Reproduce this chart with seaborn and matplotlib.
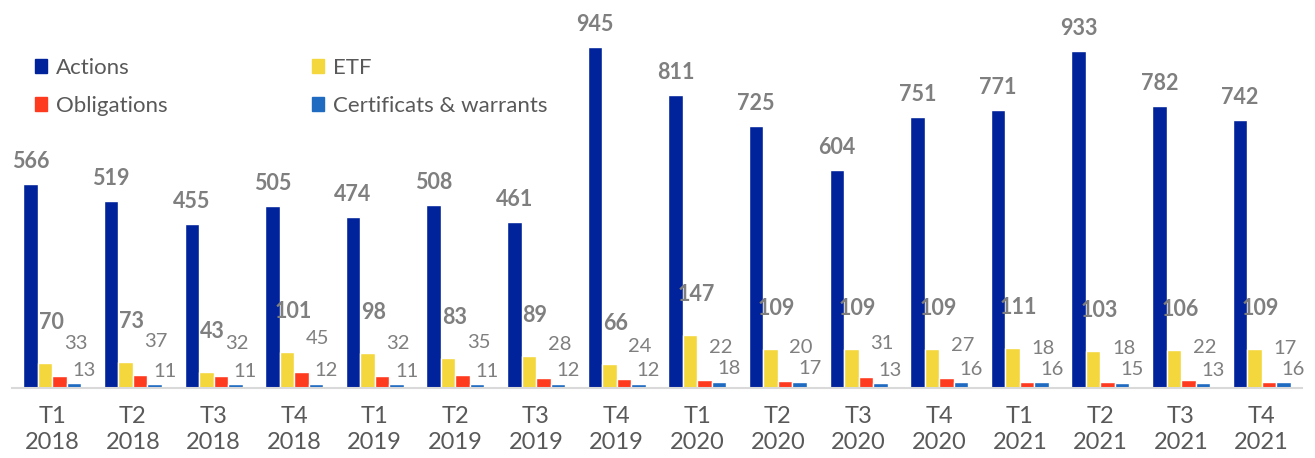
import pandas as pd
import seaborn as sns
import matplotlib.pyplot as plt

# quarterly values
quarters = ["T1\n2018", "T2\n2018", "T3\n2018", "T4\n2018",
            "T1\n2019", "T2\n2019", "T3\n2019", "T4\n2019",
            "T1\n2020", "T2\n2020", "T3\n2020", "T4\n2020",
            "T1\n2021", "T2\n2021", "T3\n2021", "T4\n2021"]
actions = [566, 519, 455, 505, 474, 508, 461, 945, 811, 725, 604, 751, 771, 933, 782, 742]
etf = [70, 73, 43, 101, 98, 83, 89, 66, 147, 109, 109, 109, 111, 103, 106, 109]
obligations = [33, 37, 32, 45, 32, 35, 28, 24, 22, 20, 31, 27, 18, 18, 22, 17]
certificats = [13, 11, 11, 12, 11, 11, 12, 12, 18, 17, 13, 16, 16, 15, 13, 16]

series = ["Actions", "ETF", "Obligations", "Certificats & warrants"]
colors = ["#00229A", "#F4D73C", "#FF3B1F", "#1F6BC1"]

df = pd.DataFrame({
    "quarter": quarters * 4,
    "series": [s for s in series for _ in quarters],
    "value": actions + etf + obligations + certificats,
})

sns.set_style("white")
plt.rcParams['font.family'] = ['Lato', 'DejaVu Sans']

fig = plt.figure(figsize=(13.15, 4.58), dpi=100)
ax = fig.add_axes([12 / 1315, 70 / 458, 1290 / 1315, 388 / 458])

sns.barplot(data=df, x="quarter", y="value", hue="series", hue_order=series,
            order=quarters, palette=colors, width=0.72, gap=0, saturation=1,
            errorbar=None, ax=ax, legend=False)

ax.set_xlim(-0.5, len(quarters) - 0.5)
ax.set_ylim(0, 1075)
ax.set_xlabel("")
ax.set_ylabel("")
ax.set_yticks([])
for side in ["left", "right", "top"]:
    ax.spines[side].set_visible(False)
ax.spines["bottom"].set_color("#d9d9d9")
ax.spines["bottom"].set_linewidth(1.5)
ax.tick_params(axis="x", length=0, pad=13, labelsize=17, labelcolor="#595959")
for t in ax.get_xticklabels():
    t.set_linespacing(1.3)

# data labels (offsets in pixels: dx, dy, size, weight)
label_style = [(0, 12, 15.5, "bold"), (6, 30, 15.5, "bold"),
               (16, 33, 14.5, "normal"), (10, 13, 14.5, "normal")]
values = [actions, etf, obligations, certificats]
for cont, vals, (dx, dy, fs, fw) in zip(ax.containers, values, label_style):
    for bar, v in zip(cont, vals):
        x = bar.get_x() + bar.get_width() / 2
        ax.annotate(str(v), (x, bar.get_height()), xytext=(dx, dy),
                    textcoords="offset pixels", ha="center",
                    va="bottom" if fw == "bold" else "center",
                    fontsize=fs, fontweight=fw, color="#7f7f7f")

# legend: row 1 Actions / ETF, row 2 Obligations / Certificats
handles = [plt.Rectangle((0, 0), 1, 1, color=c) for c in colors]
order = [0, 2, 1, 3]
fig.legend([handles[i] for i in order], [series[i] for i in order],
           ncol=2, loc="upper left", bbox_to_anchor=(35 / 1315, 1 - 58 / 458),
           frameon=False, fontsize=16, handlelength=0.55, handleheight=0.55,
           handletextpad=0.4, columnspacing=6.5, labelspacing=0.8,
           borderpad=0, borderaxespad=0, labelcolor="#595959")

plt.savefig("out.png", dpi=100)
